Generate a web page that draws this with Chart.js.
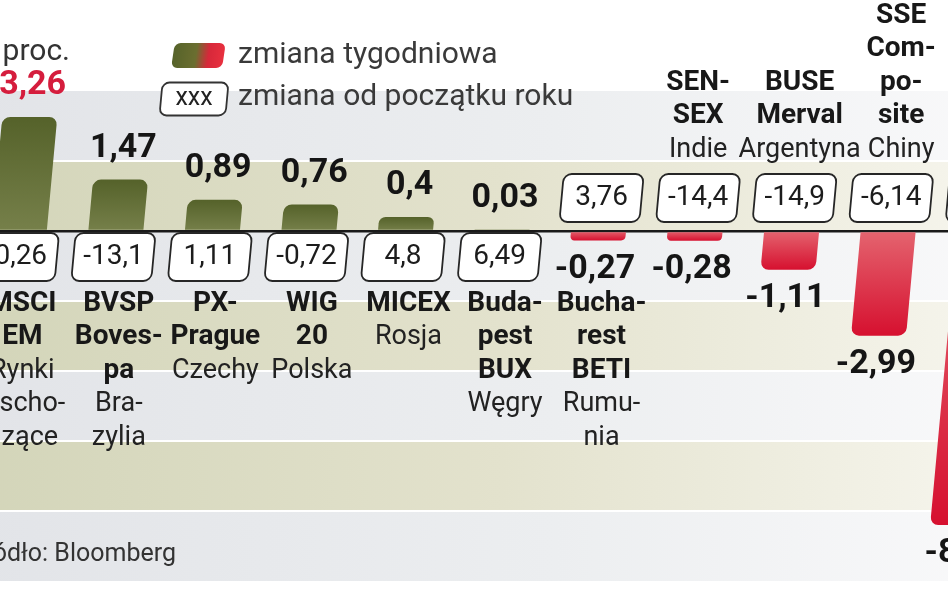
<!DOCTYPE html>
<html>
<head>
<meta charset="utf-8">
<script src="https://cdn.jsdelivr.net/npm/chart.js@4.4.1/dist/chart.umd.min.js"></script>
<style>
  html, body { margin: 0; padding: 0; width: 948px; height: 593px; overflow: hidden; background: #fff; }
  #wrap { position: absolute; left: -29px; top: 0; width: 1062px; height: 593px; }
</style>
</head>
<body>
<div id="wrap"><canvas id="chart"></canvas></div>
<script>
// dane: zmiana tygodniowa i od początku roku (proc.)
const categories = ['MSCI EM', 'BVSP Bovespa', 'PX-Prague', 'WIG 20', 'MICEX', 'Budapest BUX',
                    'Bucharest BETI', 'SENSEX', 'BUSE Merval', 'SSE Composite', ''];
const weeklyChange = [3.26, 1.47, 0.89, 0.76, 0.4, 0.03, -0.27, -0.28, -1.11, -2.99, -8.4];
const ytdChange = [-0.26, -13.1, 1.11, -0.72, 4.8, 6.49, 3.76, -14.4, -14.9, -6.14, null];
const indexLines = [['MSCI', 'EM'], ['BVSP', 'Boves-', 'pa'], ['PX-', 'Prague'], ['WIG', '20'], ['MICEX'],
                    ['Buda-', 'pest', 'BUX'], ['Bucha-', 'rest', 'BETI'], ['SEN-', 'SEX'], ['BUSE', 'Merval'],
                    ['SSE', 'Com-', 'po-', 'site'], []];
const countryLines = [['Rynki', 'wscho-', 'dzące'], ['Bra-', 'zylia'], ['Czechy'], ['Polska'], ['Rosja'],
                      ['Węgry'], ['Rumu-', 'nia'], ['Indie'], ['Argentyna'], ['Chiny'], []];
const bandTicks = [-10, -8, -6, -4, -2, 0, 2, 4];

const SKEW = 0.092;      // pochylenie słupków
const SHIFT = 29;        // przesunięcie płótna w lewo
const NAMES_BELOW = 7;   // pierwsze indeksy mają podpisy pod osią
const LINE = 33.5;
const FONT = "Roboto, 'Liberation Sans', sans-serif";
const fmt = v => String(v).replace('.', ',');
const maxIdx = weeklyChange.indexOf(Math.max(...weeklyChange));

function text(c, s, x, y, font, color, align) {
  c.font = font; c.fillStyle = color; c.textAlign = align || 'center'; c.textBaseline = 'middle';
  c.fillText(s, x, y);
}

function skewedBox(c, cx, cy, w, h, pivotY, r, fill, stroke) {
  c.save();
  c.transform(1, 0, -SKEW, 1, SKEW * pivotY, 0);
  c.beginPath();
  c.roundRect(cx - w / 2, cy - h / 2, w, h, r);
  c.fillStyle = fill; c.fill();
  if (stroke) { c.lineWidth = 1.8; c.strokeStyle = stroke; c.stroke(); }
  c.restore();
}

const bandsPlugin = {
  id: 'bands',
  beforeDraw(chart) {
    const c = chart.ctx, ys = chart.scales.y, w = chart.width;
    c.save();
    c.fillStyle = '#fff';
    c.fillRect(0, 0, w, chart.height);
    const gray = c.createLinearGradient(0, 0, w, 0);
    gray.addColorStop(0, '#e2e4e8'); gray.addColorStop(0.55, '#eceef0'); gray.addColorStop(1, '#fafafb');
    const olive = c.createLinearGradient(0, 0, w, 0);
    olive.addColorStop(0, '#d3d5b9'); olive.addColorStop(0.5, '#e3e2cd'); olive.addColorStop(1, '#f8f7f0');
    for (let k = 0; k < bandTicks.length - 1; k++) {
      const top = ys.getPixelForValue(bandTicks[k + 1]);
      const bottom = ys.getPixelForValue(bandTicks[k]);
      c.fillStyle = (bandTicks[k + 1] % 4 === 0) ? gray : olive;
      c.fillRect(0, top, w, bottom - top);
    }
    c.restore();
  }
};

const skewPlugin = {
  id: 'skew',
  beforeDatasetsDraw(chart) {
    const y0 = chart.scales.y.getPixelForValue(0);
    chart.ctx.save();
    chart.ctx.transform(1, 0, -SKEW, 1, SKEW * y0, 0);
  },
  afterDatasetsDraw(chart) { chart.ctx.restore(); }
};

const labelsPlugin = {
  id: 'labels',
  afterDraw(chart) {
    const c = chart.ctx, ys = chart.scales.y;
    const y0 = ys.getPixelForValue(0);
    const meta = chart.getDatasetMeta(0);
    const sx = (x, y) => x + SKEW * (y0 - y);
    c.save();
    meta.data.forEach((bar, i) => {
      const v = weeklyChange[i], cx = bar.x, tip = bar.y;
      // wartość tygodniowa
      const vy = v >= 0 ? tip - 31 : tip + 29;
      text(c, fmt(v), sx(cx, vy), vy, 'bold 34px ' + FONT, i === maxIdx ? '#d51d3d' : '#151515');
      // ramka: zmiana od początku roku
      const by = v >= 0 ? y0 + 26 : y0 - 33;
      skewedBox(c, cx, by, 80, 48, y0, 8, '#fff', '#262626');
      if (ytdChange[i] !== null) text(c, fmt(ytdChange[i]), sx(cx, by), by, '28px ' + FONT, '#1c1c1c');
      // podpisy
      const nx = cx + 3 + (i >= NAMES_BELOW ? (i - NAMES_BELOW) * 5 : 0);
      if (i < NAMES_BELOW) {
        let y = y0 + 73;
        indexLines[i].forEach(s => { text(c, s, nx, y, 'bold 28px ' + FONT, '#181818'); y += LINE; });
        countryLines[i].forEach(s => { text(c, s, nx, y, '27px ' + FONT, '#222'); y += LINE; });
      } else {
        let y = y0 - 81;
        countryLines[i].slice().reverse().forEach(s => { text(c, s, nx, y, '27px ' + FONT, '#222'); y -= LINE; });
        indexLines[i].slice().reverse().forEach(s => { text(c, s, nx, y, 'bold 28px ' + FONT, '#181818'); y -= LINE; });
      }
    });

    // jednostka i legenda
    text(c, 'w proc.', 70 + SHIFT, 52, '30px ' + FONT, '#333', 'right');
    c.save();
    c.transform(1, 0, -SKEW * 1.6, 1, SKEW * 1.6 * 55, 0);
    const g = c.createLinearGradient(173 + SHIFT, 0, 224 + SHIFT, 0);
    g.addColorStop(0, '#56632a'); g.addColorStop(0.45, '#6b6e30'); g.addColorStop(0.7, '#d7283a'); g.addColorStop(1, '#e8303f');
    c.beginPath(); c.roundRect(173 + SHIFT, 43, 51, 25, 6); c.fillStyle = g; c.fill();
    c.restore();
    text(c, 'zmiana tygodniowa', 238 + SHIFT, 55, '30px ' + FONT, '#3a3a3a', 'left');
    skewedBox(c, 194 + SHIFT, 99, 66, 33, 99, 7, '#fff', '#333');
    text(c, 'xxx', 194 + SHIFT, 99, '25px ' + FONT, '#222');
    text(c, 'zmiana od początku roku', 238 + SHIFT, 97, '30px ' + FONT, '#3a3a3a', 'left');

    // źródło
    text(c, 'Źródło: Bloomberg', 176 + SHIFT, 555, '25px ' + FONT, '#333', 'right');
    c.restore();
  }
};

new Chart(document.getElementById('chart'), {
  type: 'bar',
  data: {
    labels: categories,
    datasets: [{
      label: 'zmiana tygodniowa',
      data: weeklyChange,
      clip: false,
      borderRadius: 8,
      borderSkipped: 'start',
      barPercentage: 1,
      categoryPercentage: 0.57,
      backgroundColor(ctx) {
        const chart = ctx.chart;
        if (!chart.chartArea || ctx.type !== 'data') return '#5d6b2d';
        const v = ctx.raw, ys = chart.scales.y;
        const g = chart.ctx.createLinearGradient(0, ys.getPixelForValue(0), 0, ys.getPixelForValue(v));
        if (v >= 0) { g.addColorStop(0, '#76804a'); g.addColorStop(1, '#55622a'); }
        else { g.addColorStop(0, '#e4646f'); g.addColorStop(1, '#d6102f'); }
        return g;
      }
    }]
  },
  options: {
    responsive: true,
    maintainAspectRatio: false,
    animation: false,
    layout: { padding: 0 },
    plugins: { legend: { display: false }, tooltip: { enabled: false } },
    scales: {
      x: { display: false },
      y: {
        min: -10.343, max: 6.6,
        z: 1,
        border: { display: false },
        ticks: { display: false, stepSize: 2 },
        afterFit(s) { s.width = 0; },
        grid: {
          drawTicks: false,
          color(ctx) {
            const v = ctx.tick.value;
            if (v === 0) return '#1a1a1a';
            return (bandTicks.includes(v) && v < 4) ? '#ffffff' : 'rgba(0,0,0,0)';
          },
          lineWidth(ctx) { return ctx.tick.value === 0 ? 2.5 : 2; }
        }
      }
    }
  },
  plugins: [bandsPlugin, skewPlugin, labelsPlugin]
});
</script>
</body>
</html>
